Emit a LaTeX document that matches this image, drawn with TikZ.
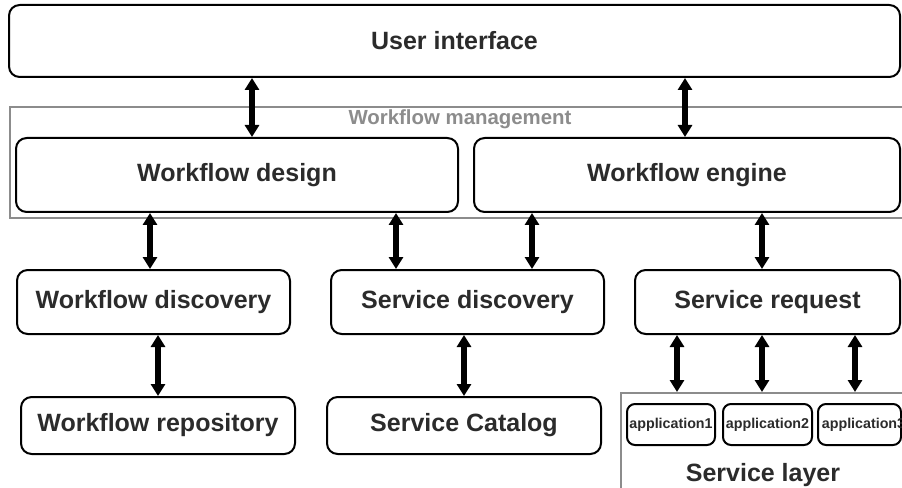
\documentclass[tikz,border=0pt]{standalone}
\usepackage{fontspec}
\setmainfont{Liberation Sans}
\usetikzlibrary{arrows.meta}
\definecolor{txt}{HTML}{2B2B2B}
\definecolor{frame}{HTML}{8C8C8C}
\tikzset{
  box/.style={draw=black, line width=1.5pt, rounded corners=8pt, fill=white,
    inner sep=0pt, text=txt, font=\fontsize{18.75}{22}\selectfont\bfseries},
  appbox/.style={box, rounded corners=6pt, font=\fontsize{10.7}{12}\selectfont\bfseries},
  grp/.style={draw=frame, line width=1.5pt},
  biarrow/.style={line width=3.8pt, {Triangle[length=9pt,width=10.5pt]}-{Triangle[length=9pt,width=10.5pt]}}
}
\begin{document}
\begin{tikzpicture}[x=0.75pt,y=-0.75pt]
\useasboundingbox[fill=white] (0,0) rectangle (902,488);
% group frames
\draw[grp] (910,107) -- (9.5,107) -- (9.5,218) -- (910,218);
\node[text=frame, font=\fontsize{15.3}{18}\selectfont\bfseries] (wmlabel) at (460,119) {Workflow management};
\node[grp, minimum width=289*0.75pt, minimum height=107*0.75pt, inner sep=0pt] (sl) at (765.5,446.5) {};
\node[text=txt, font=\fontsize{18.75}{22}\selectfont\bfseries] (sllabel) at (763,475) {Service layer};
% boxes
\node[box, minimum width=891*0.75pt, minimum height=72*0.75pt] (ui) at (454.5,41) {User interface};
\node[box, minimum width=442*0.75pt, minimum height=74*0.75pt] (wd) at (237,175) {Workflow design};
\node[box, minimum width=426*0.75pt, minimum height=74*0.75pt] (we) at (687,175) {Workflow engine};
\node[box, minimum width=273*0.75pt, minimum height=64*0.75pt] (wdisc) at (153.5,302) {Workflow discovery};
\node[box, minimum width=273*0.75pt, minimum height=64*0.75pt] (sd) at (467.5,302) {Service discovery};
\node[box, minimum width=265*0.75pt, minimum height=64*0.75pt] (sr) at (767.5,302) {Service request};
\node[box, minimum width=274*0.75pt, minimum height=57*0.75pt] (wr) at (158,425.5) {Workflow repository};
\node[box, minimum width=274*0.75pt, minimum height=57*0.75pt] (sc) at (464,425.5) {Service Catalog};
\node[appbox, minimum width=88*0.75pt, minimum height=41*0.75pt] (a1) at (671,424.5) {application1};
\node[appbox, minimum width=89*0.75pt, minimum height=41*0.75pt] (a2) at (767.5,424.5) {application2};
\node[appbox, minimum width=83*0.75pt, minimum height=41*0.75pt] (a3) at (859.5,424.5) {\makebox[0pt]{\hspace{6pt}application3}};
% arrow x positions
\coordinate (x1) at (252,0);
\coordinate (x2) at (685,0);
\coordinate (x3) at (150,0);
\coordinate (x4) at (396,0);
\coordinate (x5) at (532,0);
\coordinate (x6) at (762,0);
\coordinate (x7) at (158,0);
\coordinate (x8) at (464,0);
\coordinate (x9) at (677,0);
\coordinate (x10) at (762,0);
\coordinate (x11) at (855,0);
% connectors
\draw[biarrow] (ui.south -| x1) -- (wd.north -| x1);
\draw[biarrow] (ui.south -| x2) -- (we.north -| x2);
\draw[biarrow] (wd.south -| x3) -- (wdisc.north -| x3);
\draw[biarrow] (wd.south -| x4) -- (sd.north -| x4);
\draw[biarrow] (we.south -| x5) -- (sd.north -| x5);
\draw[biarrow] (we.south -| x6) -- (sr.north -| x6);
\draw[biarrow] (wdisc.south -| x7) -- (wr.north -| x7);
\draw[biarrow] (sd.south -| x8) -- (sc.north -| x8);
\draw[biarrow] (sr.south -| x9) -- (sl.north -| x9);
\draw[biarrow] (sr.south -| x10) -- (sl.north -| x10);
\draw[biarrow] (sr.south -| x11) -- (sl.north -| x11);
\end{tikzpicture}
\end{document}
